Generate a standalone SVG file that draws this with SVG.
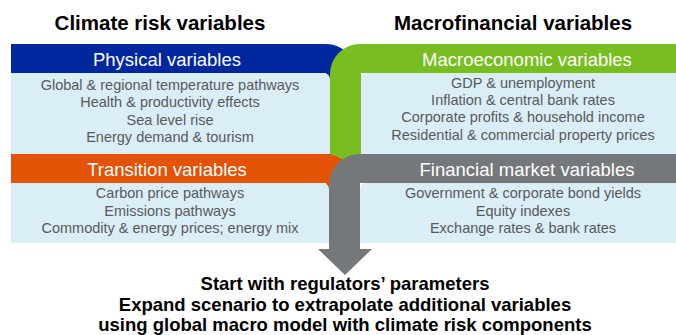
<svg xmlns="http://www.w3.org/2000/svg" width="676" height="335" viewBox="0 0 676 335">
  <style>
    .title { font-family: "Liberation Sans", Arial, sans-serif; font-size: 20.5px; font-weight: bold; fill: #000; text-anchor: middle; }
    .head { font-family: "Liberation Sans", Arial, sans-serif; font-size: 18.5px; fill: #fff; text-anchor: middle; }
    .item { font-family: "Liberation Sans", Arial, sans-serif; font-size: 14.5px; fill: #595959; text-anchor: middle; }
    .note { font-family: "Liberation Sans", Arial, sans-serif; font-size: 18.5px; font-weight: bold; fill: #000; text-anchor: middle; }
    .body { fill: #DAEEF8; }
  </style>
  <rect width="676" height="335" fill="#fff"/>

  <text class="title" x="160" y="30">Climate risk variables</text>
  <text class="title" x="513" y="30">Macrofinancial variables</text>

  <!-- Physical variables: blue band bending downwards -->
  <g id="physical">
    <path d="M11,44 H326 A30,30 0 0 1 356,74 V158 H326 V73 H11 Z" fill="#00289E"/>
    <path class="body" d="M11,73 H323 Q330,73 330,80 V154 H11 Z"/>
    <text class="head" x="167" y="66">Physical variables</text>
    <text class="item" x="170" y="90">Global &amp; regional temperature pathways</text>
    <text class="item" x="170" y="107">Health &amp; productivity effects</text>
    <text class="item" x="170" y="124.5">Sea level rise</text>
    <text class="item" x="170" y="141.5">Energy demand &amp; tourism</text>
  </g>

  <!-- Macroeconomic variables: green band bending downwards -->
  <g id="macroeconomic">
    <path d="M676,44 V73 H361 V175 H330 V74 A30,30 0 0 1 360,44 Z" fill="#78BE20"/>
    <path class="body" d="M361,80 Q361,73 368,73 H676 V154 H361 Z"/>
    <text class="head" x="527" y="66">Macroeconomic variables</text>
    <text class="item" x="523" y="87.5">GDP &amp; unemployment</text>
    <text class="item" x="523" y="105">Inflation &amp; central bank rates</text>
    <text class="item" x="523" y="122">Corporate profits &amp; household income</text>
    <text class="item" x="523" y="139.5">Residential &amp; commercial property prices</text>
  </g>

  <!-- Transition variables: orange band bending downwards -->
  <g id="transition">
    <path d="M11,154 H325 A30,30 0 0 1 355,184 V200 H326 V183 H11 Z" fill="#E35205"/>
    <path class="body" d="M11,183 H322 Q329,183 329,190 V243 H11 Z"/>
    <text class="head" x="167" y="176">Transition variables</text>
    <text class="item" x="170" y="198">Carbon price pathways</text>
    <text class="item" x="170" y="215.5">Emissions pathways</text>
    <text class="item" x="170" y="233">Commodity &amp; energy prices; energy mix</text>
  </g>

  <!-- Financial market variables: grey band ending in the downward arrow -->
  <g id="financial">
    <path d="M676,154 V183 H360 V249 H372 L345,275 L318,249 H329 V185 A31,31 0 0 1 360,154 Z" fill="#75787B"/>
    <path class="body" d="M360,190 Q360,183 367,183 H676 V243 H360 Z"/>
    <text class="head" x="527" y="176">Financial market variables</text>
    <text class="item" x="523" y="198">Government &amp; corporate bond yields</text>
    <text class="item" x="523" y="215.5">Equity indexes</text>
    <text class="item" x="523" y="233">Exchange rates &amp; bank rates</text>
  </g>

  <g id="connectors"/>

  <g id="outcome">
    <text class="note" x="345" y="290">Start with regulators’ parameters</text>
    <text class="note" x="345" y="310.5">Expand scenario to extrapolate additional variables</text>
    <text class="note" x="345" y="331">using global macro model with climate risk components</text>
  </g>
</svg>
